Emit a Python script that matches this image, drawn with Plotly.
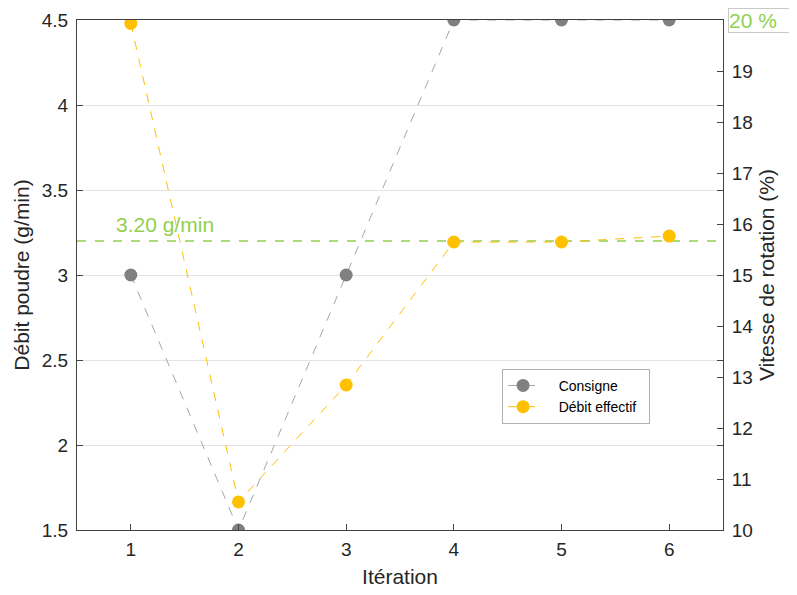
import plotly.graph_objects as go

iterations = [1, 2, 3, 4, 5, 6]
consigne_pct = [15, 10, 15, 20, 20, 20]
debit_effectif = [4.48, 1.665, 2.353, 3.194, 3.194, 3.229]
target_debit = 3.20
right_ticks = [10, 11, 12, 13, 14, 15, 16, 17, 18, 19]
series_names = ["Consigne", "Débit effectif"]

FONT = "Liberation Sans, Arial, sans-serif"
GRAY = "#808080"
ORANGE = "#FFC000"
GREEN = "#92D050"
PAD = "&nbsp;" * 4

fig = go.Figure()

fig.add_trace(go.Scatter(
    x=iterations, y=consigne_pct, name=PAD + series_names[0] + "&nbsp;&nbsp;", yaxis="y2",
    mode="lines+markers",
    line=dict(color="#A6A6A6", width=1, dash="dash"),
    marker=dict(color=GRAY, size=13),
))
fig.add_trace(go.Scatter(
    x=iterations, y=debit_effectif, name=PAD + series_names[1] + "&nbsp;&nbsp;", yaxis="y",
    mode="lines+markers",
    line=dict(color=ORANGE, width=1, dash="dash"),
    marker=dict(color=ORANGE, size=13),
))

fig.add_shape(type="line", xref="paper", x0=0, x1=1, yref="y", y0=target_debit, y1=target_debit,
              line=dict(color=GREEN, width=1.3, dash="dash"), layer="below")

fig.add_annotation(xref="paper", x=0.058, yref="y", y=target_debit, yshift=3,
                   text=f"{target_debit:.2f} g/min", showarrow=False,
                   xanchor="left", yanchor="bottom",
                   font=dict(family=FONT, size=21, color=GREEN))
fig.add_annotation(xref="paper", x=1.0077, yref="paper", y=1.0235,
                   text="20 %&nbsp;&nbsp;&nbsp;", showarrow=False,
                   xanchor="left", yanchor="top", align="left",
                   bordercolor="#C8C8C8", borderwidth=1, borderpad=0,
                   font=dict(family=FONT, size=21, color=GREEN))

fig.update_layout(
    width=789, height=587,
    margin=dict(l=69, r=74, t=12, b=65, autoexpand=False),
    paper_bgcolor="white", plot_bgcolor="white",
    font=dict(family=FONT, size=19, color="#262626"),
    xaxis=dict(
        range=[0.5, 6.5], tickvals=iterations, ticks="inside", ticklen=6,
        showgrid=False, zeroline=False, automargin=False,
        showline=True, linecolor="#404040", linewidth=1, mirror=True,
        ticklabelstandoff=2,
        title=dict(text="Itération", font=dict(size=21), standoff=10),
    ),
    yaxis=dict(
        range=[1.5, 4.5], dtick=0.5, ticks="inside", ticklen=6,
        showgrid=True, gridcolor="#E3E3E3", zeroline=False, automargin=False,
        showline=True, linecolor="#404040", linewidth=1, mirror="ticks",
        ticklabelstandoff=4,
        title=dict(text="Débit poudre (g/min)", font=dict(size=21), standoff=6),
    ),
    yaxis2=dict(
        range=[10, 20], tickvals=right_ticks, overlaying="y", side="right",
        ticks="inside", ticklen=6, showgrid=False, zeroline=False, automargin=False,
        showline=True, linecolor="#404040", linewidth=1,
        ticklabelstandoff=4,
        title=dict(text="Vitesse de rotation (%)", font=dict(size=21), standoff=6),
    ),
    legend=dict(
        x=0.658, y=0.316, xanchor="left", yanchor="top",
        bgcolor="white", bordercolor="#B0B0B0", borderwidth=1,
        font=dict(size=14, color="#000000"), tracegroupgap=0,
    ),
    showlegend=True,
)

fig.write_html("out.html")
